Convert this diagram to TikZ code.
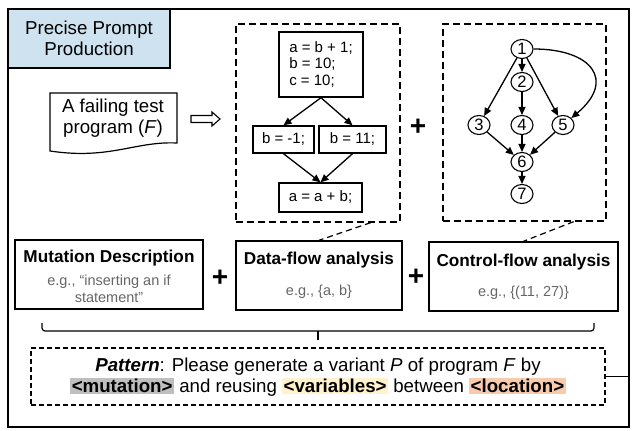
\documentclass[tikz,border=0pt]{standalone}
\usepackage{fontspec}
\setmainfont{Liberation Sans}
\usetikzlibrary{arrows.meta,shapes.geometric}

\definecolor{titleblue}{HTML}{CFE2F0}
\definecolor{mutgray}{HTML}{BFBFBF}
\definecolor{varyellow}{HTML}{FFF2CC}
\definecolor{locorange}{HTML}{F8CBAD}
\definecolor{subgray}{HTML}{666666}

\newcommand{\hlword}[2]{{\setlength{\fboxsep}{1.5pt}\colorbox{#1}{\textbf{#2}}}}

\begin{document}
\begin{tikzpicture}[x=1pt,y=1pt,
	bigtext/.style={font=\fontsize{18.7}{21.5}\selectfont},
	codebox/.style={draw,line width=1.4pt,inner sep=0pt,font=\fontsize{15}{16.7}\selectfont},
	dashbox/.style={draw,line width=1.3pt,dash pattern=on 7pt off 4pt},
	cfgnode/.style={draw,ellipse,line width=1.1pt,inner sep=0pt,minimum width=22pt,minimum height=19pt,font=\fontsize{16.5}{17}\selectfont},
	infobox/.style={draw,line width=1.4pt,minimum height=69pt,inner sep=0pt},
	boxtitle/.style={font=\fontsize{17.2}{20}\selectfont\bfseries},
	boxsub/.style={align=center,text=subgray,font=\fontsize{14.5}{16.5}\selectfont},
	flow/.style={line width=1.3pt,-{Triangle[length=8pt,width=7pt]}},
	dashconn/.style={line width=1.2pt,dash pattern=on 6pt off 4pt},
	plus/.style={font=\fontsize{28}{28}\selectfont\bfseries}
]
\useasboundingbox (0,0) rectangle (633,-431);

% frame and title
\node[draw,line width=1.3pt,inner sep=0pt,minimum width=621pt,minimum height=418pt] (frame) at (318.5,-218) {};
\node[draw,fill=titleblue,line width=1.3pt,minimum width=162pt,minimum height=59pt,align=center,bigtext] (title) at (89,-38.5) {Precise Prompt\\Production};

% failing program
\draw[line width=1.2pt] (50,-93) -- (177,-93) -- (177,-143) .. controls (135,-141) and (110,-160) .. (50,-151) -- cycle;
\node[bigtext,align=center] (failProg) at (113,-118) {A failing test\\program (\textit{F})};
\draw[line width=1.1pt] (191,-115.5) -- (212,-115.5) -- (212,-112) -- (220,-119) -- (212,-126) -- (212,-122.5) -- (191,-122.5) -- cycle;

% data-flow graph
\node[dashbox,minimum width=164pt,minimum height=198pt] (dfgBox) at (318,-123) {};
\node[codebox,minimum width=84pt,minimum height=65pt,align=left] (s0) at (321,-64.5) {a = b + 1;\\b = 10;\\c = 10;};
\node[codebox,minimum width=61pt,minimum height=27pt] (sL) at (283.5,-139.5) {b = -1;};
\node[codebox,minimum width=67pt,minimum height=27pt] (sR) at (352.5,-139.5) {b = 11;};
\node[codebox,minimum width=83pt,minimum height=29pt] (sB) at (320.5,-197.5) {a = a + b;};
\draw[flow] (s0.south) -- (sL.north);
\draw[flow] (s0.south) -- (sR.north);
\draw[flow] (sL.south) -- (sB.north);
\draw[flow] (sR.south) -- (sB.north);

\node[plus] (plusA) at (418,-127) {+};

% control-flow graph
\node[dashbox,minimum width=163pt,minimum height=197pt] (cfgBox) at (524.5,-122.5) {};
\node[cfgnode] (c1) at (522,-49) {1};
\node[cfgnode] (c2) at (522,-82) {2};
\node[cfgnode] (c3) at (479,-125) {3};
\node[cfgnode] (c4) at (522,-125) {4};
\node[cfgnode] (c5) at (563,-125) {5};
\node[cfgnode] (c6) at (522,-162) {6};
\node[cfgnode] (c7) at (522,-194) {7};
\draw[flow] (c1) -- (c2);
\draw[flow] (c1) -- (c3);
\draw[flow] (c1) -- (c5);
\draw[flow] (c1.east) to[out=0,in=40,looseness=1.9] (c5.40);
\draw[flow] (c2) -- (c4);
\draw[flow] (c3) -- (c6);
\draw[flow] (c4) -- (c6);
\draw[flow] (c5) -- (c6);
\draw[flow] (c6) -- (c7);

% analysis boxes
\node[infobox,minimum width=188pt] (mutBox) at (109,-274.5) {};
\node[boxtitle] (mutTitle) at (109,-258) {Mutation Description};
\node[boxsub] (mutSub) at (109,-289) {e.g., “inserting an if\\statement”};
\node[plus] (plusB) at (220,-278) {+};
\node[infobox,minimum width=166pt] (dataBox) at (319,-275.5) {};
\node[boxtitle] (dataTitle) at (319,-260) {Data-flow analysis};
\node[boxsub] (dataSub) at (319,-292) {e.g., \{a, b\}};
\node[plus] (plusC) at (416,-277) {+};
\node[infobox,minimum width=189pt] (ctrlBox) at (523.5,-276.5) {};
\node[boxtitle] (ctrlTitle) at (523.5,-262) {Control-flow analysis};
\node[boxsub] (ctrlSub) at (523.5,-293) {e.g., \{(11, 27)\}};

\draw[dashconn] ([xshift=-30pt]dfgBox.south east) -- (dataBox.north);
\draw[dashconn] ([xshift=-33pt]cfgBox.south east) -- (ctrlBox.north);

% brace
\coordinate (braceL) at (42,-323);
\coordinate (braceR) at (594,-323);
\coordinate (braceTip) at (318,-340);
\draw[line width=1.2pt,rounded corners=3pt] (braceL) -- ++(0,-8) -- ([yshift=-8pt]braceR) -- (braceR);
\draw[line width=1.2pt] (braceTip) -- ++(0,9);

% pattern
\node[draw,line width=1.2pt,dash pattern=on 5pt off 3pt,minimum width=574pt,minimum height=57pt] (patBox) at (318,-376.5) {};
\node[bigtext,align=center] (patText) at (318,-377) {\textbf{\textit{Pattern}}: Please generate a variant \textit{P} of program \textit{F} by\\\hlword{mutgray}{<mutation>} and reusing \hlword{varyellow}{<variables>} between \hlword{locorange}{<location>}};
\draw[line width=1.2pt] (patBox.east) -- (patBox.east -| frame.east);

\end{tikzpicture}
\end{document}
